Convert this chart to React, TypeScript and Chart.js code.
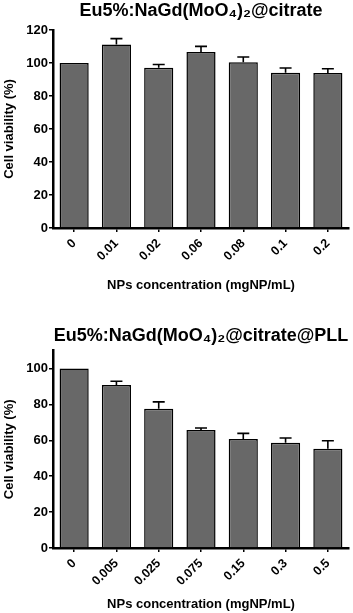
import React, { useEffect, useRef } from "react";
import { Chart, registerables } from "chart.js";

Chart.register(...registerables);

const topTitle = "Eu5%:NaGd(MoO₄)₂@citrate";
const topCategories = ["0", "0.01", "0.02", "0.06", "0.08", "0.1", "0.2"];
const topViability = [100, 111.2, 97.1, 106.7, 100.4, 94.1, 93.9];
const topSd = [0, 3.6, 2.0, 3.4, 3.2, 2.9, 2.6];
const topYMax = 120;
const topYShownMax = 120;

const bottomTitle = "Eu5%:NaGd(MoO₄)₂@citrate@PLL";
const bottomCategories = ["0", "0.005", "0.025", "0.075", "0.15", "0.3", "0.5"];
const bottomViability = [100, 90.9, 77.6, 65.8, 60.7, 58.7, 55.3];
const bottomSd = [0, 2.0, 3.8, 1.1, 3.2, 2.6, 4.5];
const bottomYMax = 110;
const bottomYShownMax = 100;

const yTitle = "Cell viability (%)";
const xTitle = "NPs concentration (mgNP/mL)";

const FONT = "'Liberation Sans', Arial, Helvetica, sans-serif";

type PanelProps = {
  title: string;
  categories: string[];
  values: number[];
  sd: number[];
  yMax: number;
  yShownMax: number;
  height: number;
  titlePad: { top: number; bottom: number };
  xHeight: number;
  xTitlePadBottom: number;
};

const errorBarPlugin = {
  id: "errorBars",
  afterDatasetsDraw(chart: any) {
    const ctx = chart.ctx;
    const yScale = chart.scales.y;
    chart.data.datasets.forEach((ds: any, di: number) => {
      const meta = chart.getDatasetMeta(di);
      const errs: number[] = ds.errors || [];
      meta.data.forEach((bar: any, i: number) => {
        const e = errs[i];
        if (!e) return;
        const v = ds.data[i];
        const yTop = yScale.getPixelForValue(v + e);
        ctx.save();
        ctx.strokeStyle = "#000";
        ctx.lineWidth = 1.6;
        ctx.beginPath();
        ctx.moveTo(bar.x, bar.y);
        ctx.lineTo(bar.x, yTop);
        ctx.moveTo(bar.x - 6, yTop);
        ctx.lineTo(bar.x + 6, yTop);
        ctx.stroke();
        ctx.restore();
      });
    });
  },
};

function Panel(p: PanelProps) {
  const ref = useRef<HTMLCanvasElement | null>(null);
  useEffect(() => {
    if (!ref.current) return;
    const chart = new Chart(ref.current, {
      type: "bar",
      data: {
        labels: p.categories,
        datasets: [
          {
            data: p.values,
            errors: p.sd,
            backgroundColor: "#686868",
            borderColor: "#000",
            borderWidth: 1.5,
            barPercentage: 0.82,
            categoryPercentage: 0.84,
          } as any,
        ],
      },
      options: {
        responsive: false,
        animation: false,
        layout: { padding: { left: 0, right: 4, top: 0, bottom: 0 } },
        plugins: {
          legend: { display: false },
          tooltip: { enabled: false },
          title: {
            display: true,
            text: p.title,
            fullSize: false,
            color: "#000",
            font: { family: FONT, size: 18, weight: "bold", lineHeight: 1.2 },
            padding: p.titlePad,
          },
        },
        scales: {
          x: {
            grid: {
              display: true,
              drawOnChartArea: false,
              drawTicks: true,
              tickLength: 4,
              color: "#000",
              lineWidth: 1.5,
              offset: false,
            },
            border: { display: true, color: "#000", width: 2.5 },
            ticks: {
              color: "#000",
              font: { family: FONT, size: 12.5, weight: "bold" },
              maxRotation: 45,
              minRotation: 45,
              autoSkip: false,
              padding: 4,
            },
            title: {
              display: true,
              text: xTitle,
              color: "#000",
              font: { family: FONT, size: 13, weight: "bold", lineHeight: 1.2 },
              padding: { top: 0, bottom: p.xTitlePadBottom },
            },
            afterFit(scale: any) {
              scale.height = p.xHeight;
            },
          },
          y: {
            min: 0,
            max: p.yMax,
            ticks: {
              stepSize: 20,
              color: "#000",
              font: { family: FONT, size: 13, weight: "bold" },
              padding: 1,
            },
            afterBuildTicks(scale: any) {
              scale.ticks = scale.ticks.filter((t: any) => t.value <= p.yShownMax);
            },
            grid: {
              display: true,
              drawOnChartArea: false,
              drawTicks: true,
              tickLength: 4,
              color: "#000",
              lineWidth: 1.5,
            },
            border: { display: true, color: "#000", width: 2.5 },
            title: {
              display: true,
              text: yTitle,
              color: "#000",
              font: { family: FONT, size: 13, weight: "bold", lineHeight: 1.2 },
              padding: { top: 2, bottom: 0 },
            },
            afterFit(scale: any) {
              scale.width = 53;
            },
          },
        },
      } as any,
      plugins: [errorBarPlugin],
    });
    return () => chart.destroy();
  }, []);
  return (
    <canvas
      ref={ref}
      width={353}
      height={p.height}
      style={{ display: "block", width: 353, height: p.height }}
    />
  );
}

export default function App() {
  return (
    <div style={{ position: "absolute", left: 0, top: 0, width: 353, height: 613, background: "#fff" }}>
      <Panel
        title={topTitle}
        categories={topCategories}
        values={topViability}
        sd={topSd}
        yMax={topYMax}
        yShownMax={topYShownMax}
        height={310}
        titlePad={{ top: 0, bottom: 8.4 }}
        xHeight={82}
        xTitlePadBottom={17}
      />
      <Panel
        title={bottomTitle}
        categories={bottomCategories}
        values={bottomViability}
        sd={bottomSd}
        yMax={bottomYMax}
        yShownMax={bottomYShownMax}
        height={303}
        titlePad={{ top: 15, bottom: 4 }}
        xHeight={65}
        xTitlePadBottom={1}
      />
    </div>
  );
}
